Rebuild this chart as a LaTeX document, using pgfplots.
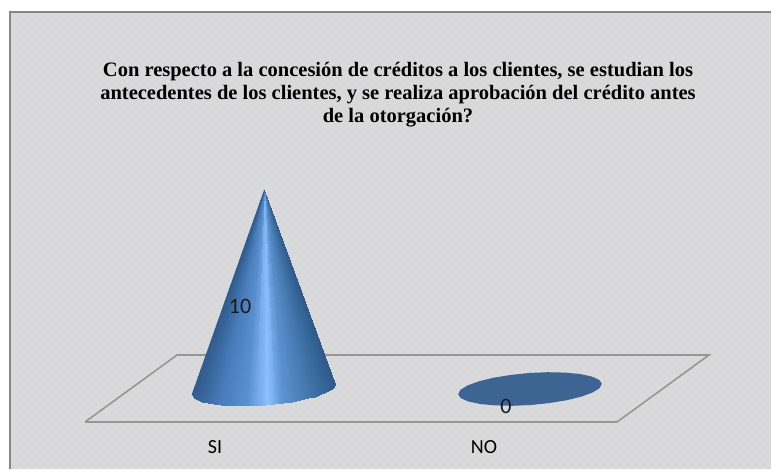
\documentclass[border=0pt]{standalone}
\usepackage{fontspec}
\setmainfont{Liberation Serif}
\newfontfamily\labelfont{Carlito}
\usepackage{pgfplots}
\pgfplotsset{compat=1.18}
\usetikzlibrary{patterns.meta}

\definecolor{panel}{RGB}{217,217,217}
\definecolor{panelline}{RGB}{134,134,134}
\definecolor{dotblue}{RGB}{170,200,238}
\definecolor{floorline}{RGB}{150,150,150}
\definecolor{conebase}{RGB}{61,101,148}
\definecolor{conemid}{RGB}{74,124,184}

\begin{document}
\begin{tikzpicture}[x=1pt,y=1pt]
  \useasboundingbox (0,0) rectangle (771,469);
  % page and dotted chart panel
  \fill[white] (0,0) rectangle (771,469);
  \fill[panel] (10,0) rectangle (771,457);
  \fill[pattern={Dots[distance=8pt,radius=0.5pt]},pattern color=dotblue] (12,0) rectangle (771,455);
  \fill[pattern={Dots[distance=8pt,radius=0.5pt,xshift=4pt,yshift=4pt]},pattern color=dotblue] (12,0) rectangle (771,455);
  \draw[panelline,line width=2.4pt] (10,0) -- (10,457) -- (771,457);

  \begin{axis}[
    scale only axis,
    width=771pt, height=469pt,
    xmin=0, xmax=771,
    ymin=-3.95, ymax=19.5,
    axis line style={draw=none},
    major tick length=0pt,
    ytick=\empty,
    xtick={215,484},
    xticklabels={SI,NO},
    xticklabel style={font=\labelfont\fontsize{20}{22}\selectfont,anchor=center,yshift=22pt},
    clip=false,
    point meta min=191.7, point meta max=335.3,
    colormap={conegrad}{
      rgb255(0pt)=(48,91,140);
      rgb255(28pt)=(72,124,186);
      rgb255(55pt)=(90,144,207);
      rgb255(75pt)=(140,192,255);
      rgb255(91pt)=(92,146,208);
      rgb255(118pt)=(66,118,172);
      rgb255(143pt)=(46,90,138)
    },
  ]
    % plot floor
    \addplot[draw=floorline,line width=1.6pt,fill=none] coordinates
      {(85,-1.6) (617,-1.6) (709,1.75) (177,1.75) (85,-1.6)};

    % SI: silhouette of the cone of height 10, under its shaded surface
    \addplot[draw=none,fill=conemid] coordinates {
      (264,10) (335.3,0.315) (333.2,0.0975) (326.3,-0.12) (315.1,-0.328)
      (300.4,-0.51) (283.2,-0.65) (264.7,-0.75) (246,-0.79) (228.6,-0.77)
      (213.5,-0.70) (201.9,-0.575) (194.4,-0.41) (191.7,-0.215) (264,10)
    };
    \addplot[patch,shader=interp,point meta=explicit] table[meta=c] {
      x y c
      264 10 334.8
      335.3 0.315 335.3
      334.25 0.206 334.25
      264 10 333.7
      334.25 0.206 334.25
      333.2 0.0975 333.2
      264 10 331.5
      333.2 0.0975 333.2
      329.75 -0.011 329.75
      264 10 328
      329.75 -0.011 329.75
      326.3 -0.12 326.3
      264 10 323.5
      326.3 -0.12 326.3
      320.7 -0.224 320.7
      264 10 317.9
      320.7 -0.224 320.7
      315.1 -0.328 315.1
      264 10 311.4
      315.1 -0.328 315.1
      307.75 -0.419 307.75
      264 10 304.1
      307.75 -0.419 307.75
      300.4 -0.51 300.4
      264 10 296.1
      300.4 -0.51 300.4
      291.8 -0.58 291.8
      264 10 287.5
      291.8 -0.58 291.8
      283.2 -0.65 283.2
      264 10 278.6
      283.2 -0.65 283.2
      273.95 -0.70 273.95
      264 10 269.3
      273.95 -0.70 273.95
      264.7 -0.75 264.7
      264 10 260
      264.7 -0.75 264.7
      255.35 -0.77 255.35
      264 10 250.7
      255.35 -0.77 255.35
      246 -0.79 246
      264 10 241.7
      246 -0.79 246
      237.3 -0.78 237.3
      264 10 233
      237.3 -0.78 237.3
      228.6 -0.77 228.6
      264 10 224.8
      228.6 -0.77 228.6
      221.05 -0.735 221.05
      264 10 217.3
      221.05 -0.735 221.05
      213.5 -0.70 213.5
      264 10 210.6
      213.5 -0.70 213.5
      207.7 -0.6375 207.7
      264 10 204.8
      207.7 -0.6375 207.7
      201.9 -0.575 201.9
      264 10 200
      201.9 -0.575 201.9
      198.15 -0.4925 198.15
      264 10 196.3
      198.15 -0.4925 198.15
      194.4 -0.41 194.4
      264 10 193.7
      194.4 -0.41 194.4
      193.05 -0.3125 193.05
      264 10 192.4
      193.05 -0.3125 193.05
      191.7 -0.215 191.7
    };

    % NO: value 0 leaves only the base of the cone
    \addplot[draw=none,fill=conebase] coordinates {
      (601.8,0.315) (599.7,0.0975) (592.8,-0.12) (581.6,-0.328) (566.9,-0.51)
      (549.7,-0.65) (531.2,-0.75) (512.5,-0.79) (495.1,-0.77) (480,-0.70)
      (468.4,-0.575) (460.9,-0.41) (458.2,-0.215) (460.3,0.0025) (467.2,0.22)
      (478.4,0.428) (493.1,0.61) (510.3,0.75) (528.8,0.85) (547.5,0.89)
      (564.9,0.87) (580,0.80) (591.6,0.675) (599.1,0.51) (601.8,0.315)
    };

    % data labels
    \node[font=\labelfont\fontsize{22}{24}\selectfont,text=black!90] at (axis cs:240,4.2) {10};
    \node[font=\labelfont\fontsize{22}{24}\selectfont,text=black!90] at (axis cs:506,-0.8) {0};

    % chart title
    \node[font=\bfseries\fontsize{20.5}{23}\selectfont,align=center,text=black] at (axis cs:398,14.77)
      {Con respecto a la concesión de créditos a los clientes, se estudian los\\
       antecedentes de los clientes, y se realiza aprobación del crédito antes\\
       de la otorgación?};
  \end{axis}
\end{tikzpicture}
\end{document}
